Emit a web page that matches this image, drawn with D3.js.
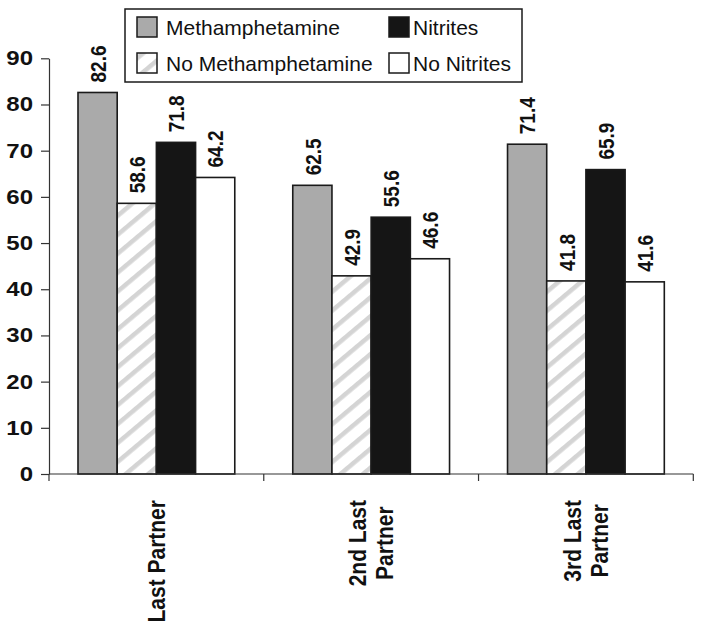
<!DOCTYPE html>
<html>
<head>
<meta charset="utf-8">
<script src="https://cdn.jsdelivr.net/npm/d3@7"></script>
<style>
  html, body { margin: 0; padding: 0; background: #fff; }
  svg { display: block; font-family: "Liberation Sans", Arial, Helvetica, sans-serif; }
</style>
</head>
<body>
<svg id="chart" width="702" height="633"></svg>
<script>
// ---- data ----
const categories = ["Last Partner", "2nd Last Partner", "3rd Last Partner"];
const categoryLines = [["Last Partner"], ["2nd Last", "Partner"], ["3rd Last", "Partner"]];
const seriesNames = ["Methamphetamine", "No Methamphetamine", "Nitrites", "No Nitrites"];
const methamphetamine = [82.6, 62.5, 71.4];
const noMethamphetamine = [58.6, 42.9, 41.8];
const nitrites = [71.8, 55.6, 65.9];
const noNitrites = [64.2, 46.6, 41.6];
const yTickValues = [0, 10, 20, 30, 40, 50, 60, 70, 80, 90];

const seriesValues = [methamphetamine, noMethamphetamine, nitrites, noNitrites];
const fills = ["#aaaaaa", "url(#hatch)", "#151515", "#ffffff"];

const svg = d3.select("#chart");

// hatch pattern
const defs = svg.append("defs");
const pat = defs.append("pattern")
  .attr("id", "hatch")
  .attr("patternUnits", "userSpaceOnUse")
  .attr("width", 14.5).attr("height", 14.5)
  .attr("patternTransform", "rotate(50)");
pat.append("rect").attr("width", 14.5).attr("height", 14.5).attr("fill", "#ffffff");
pat.append("rect").attr("x", 0).attr("width", 4.5).attr("height", 14.5).attr("fill", "#d4d4d4");

const x0 = d3.scaleBand().domain(categories).range([49, 693.3]).paddingInner(0.27).paddingOuter(0.135);
const x1 = d3.scaleBand().domain(seriesNames).range([0, x0.bandwidth()]);
const y = d3.scaleLinear().domain([0, 90]).range([474, 58.3]);

// y axis
const yAxis = svg.append("g").attr("transform", "translate(49,0)")
  .call(d3.axisLeft(y).tickValues(yTickValues).tickSize(8).tickPadding(8).tickSizeOuter(0));
yAxis.select(".domain").attr("stroke", "#333").attr("stroke-width", 1.2);
yAxis.selectAll(".tick line").attr("stroke", "#333").attr("stroke-width", 1.2);
const xScaleTick = 1.2;
yAxis.selectAll(".tick text")
  .attr("font-size", 20).attr("font-weight", "bold").attr("fill", "#111")
  .attr("font-family", "Liberation Sans, Arial, sans-serif")
  .attr("x", -16 / xScaleTick)
  .attr("transform", `scale(${xScaleTick},1)`);

// bars
const groups = svg.append("g").selectAll("g")
  .data(categories).join("g")
  .attr("transform", d => `translate(${x0(d)},0)`);

groups.each(function(cat, ci) {
  const g = d3.select(this);
  seriesNames.forEach((s, si) => {
    const v = seriesValues[si][ci];
    g.append("rect")
      .attr("x", x1(s)).attr("width", x1.bandwidth())
      .attr("y", y(v)).attr("height", y(0) - y(v))
      .attr("fill", fills[si])
      .attr("stroke", "#1a1a1a").attr("stroke-width", 1.6);
    g.append("text")
      .attr("transform", `translate(${x1(s) + x1.bandwidth() / 2},${y(v) - 10}) rotate(-90) scale(1,1.2)`)
      .attr("dy", "0.36em")
      .attr("text-anchor", "start")
      .attr("font-size", 19).attr("font-weight", "bold").attr("fill", "#111")
      .text(v.toFixed(1));
  });
});

// x axis
const xAxisG = svg.append("g").attr("transform", `translate(0,${y(0)})`);
xAxisG.append("line").attr("x1", 49).attr("x2", 693.3).attr("y1", 0).attr("y2", 0)
  .attr("stroke", "#333").attr("stroke-width", 1.2);
const boundaries = categories.map(c => x0(c) - x0.step() * x0.paddingOuter())
  .concat([x0(categories[categories.length - 1]) + x0.bandwidth() + x0.step() * x0.paddingOuter()]);
xAxisG.selectAll(".bt").data(boundaries).join("line")
  .attr("x1", d => d).attr("x2", d => d).attr("y1", 0).attr("y2", 7)
  .attr("stroke", "#333").attr("stroke-width", 1.2);

// category labels (rotated, block top aligned at y=500)
categories.forEach((c, ci) => {
  const lines = categoryLines[ci];
  const cx = x0(c) + x0.bandwidth() / 2;
  const lh = 27;
  const t = svg.append("g");
  const texts = lines.map((ln, li) => t.append("text")
    .attr("font-size", 21).attr("font-weight", "bold").attr("fill", "#111")
    .attr("text-anchor", "middle").attr("dy", "0.36em")
    .text(ln));
  const maxLen = d3.max(texts, tx => tx.node().getComputedTextLength());
  const cy = 500 + maxLen / 2;
  texts.forEach((tx, li) => {
    const off = (li - (lines.length - 1) / 2) * lh;
    tx.attr("transform", `translate(${cx + off},${cy}) rotate(-90) scale(1,1.1)`);
  });
});

// legend
const legend = svg.append("g");
legend.append("rect").attr("x", 125).attr("y", 9).attr("width", 397).attr("height", 73)
  .attr("fill", "#fff").attr("stroke", "#1a1a1a").attr("stroke-width", 1.5);
const legendPos = [
  { sx: 137, sy: 17, tx: 166 },
  { sx: 137, sy: 53, tx: 166 },
  { sx: 389, sy: 17, tx: 413 },
  { sx: 389, sy: 53, tx: 413 }
];
seriesNames.forEach((s, si) => {
  const p = legendPos[si];
  legend.append("rect").attr("x", p.sx).attr("y", p.sy).attr("width", 20).attr("height", 20)
    .attr("fill", fills[si]).attr("stroke", "#1a1a1a").attr("stroke-width", 1.5);
  legend.append("text").attr("x", p.tx).attr("y", p.sy + 17.5)
    .attr("font-size", 21).attr("fill", "#111").text(s);
});
</script>
</body>
</html>
